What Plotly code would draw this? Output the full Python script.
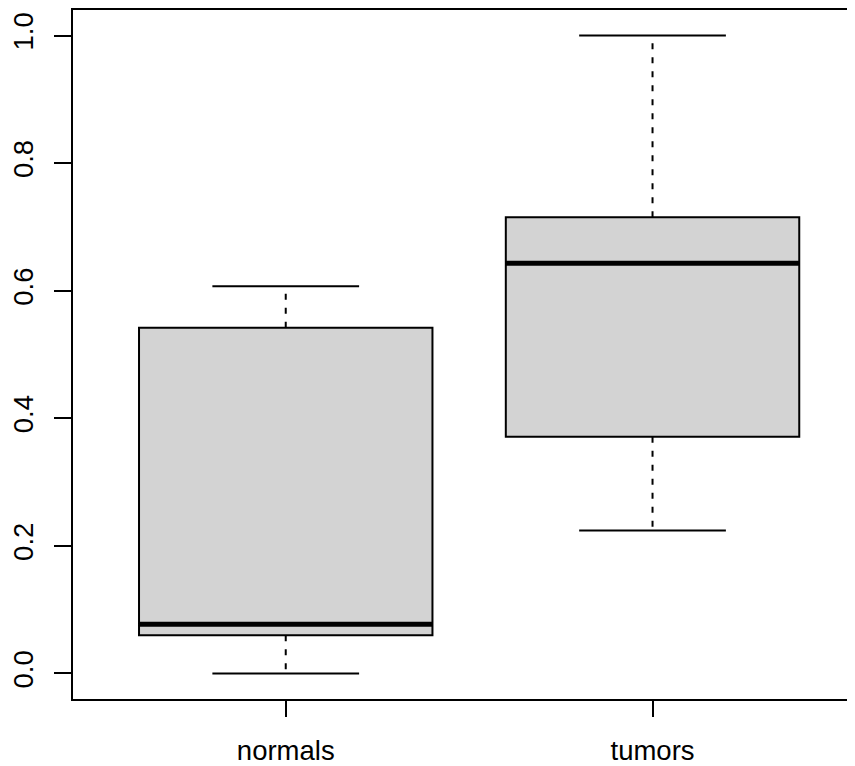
import plotly.graph_objects as go

# ---- data ----
categories = ["normals", "tumors"]
positions = [1, 2]
lower_whisker = [0.000, 0.224]
q1_values = [0.060, 0.371]
medians = [0.077, 0.643]
q3_values = [0.542, 0.715]
upper_whisker = [0.607, 1.000]
y_ticks = [0.0, 0.2, 0.4, 0.6, 0.8, 1.0]
y_tick_labels = ["0.0", "0.2", "0.4", "0.6", "0.8", "1.0"]

BOX_WIDTH = 0.8
CAP_WIDTH = 0.4
FILL = "#D3D3D3"
FONT = "Liberation Sans, Arial, Helvetica, sans-serif"

fig = go.Figure()

# boxes (whiskers drawn separately so they can be dashed)
for pos, a, m, b in zip(positions, q1_values, medians, q3_values):
    fig.add_trace(go.Box(
        x=[pos], q1=[a], median=[m], q3=[b], lowerfence=[a], upperfence=[b],
        width=BOX_WIDTH, whiskerwidth=0, fillcolor=FILL,
        line=dict(color="black", width=2), boxpoints=False,
        hoverinfo="skip", showlegend=False,
    ))

for pos, lo, a, m, b, hi in zip(positions, lower_whisker, q1_values, medians,
                                q3_values, upper_whisker):
    # dashed whiskers
    for y0, y1 in ((a, lo), (b, hi)):
        fig.add_trace(go.Scatter(
            x=[pos, pos], y=[y0, y1], mode="lines",
            line=dict(color="black", width=2, dash="6px,8px"),
            hoverinfo="skip", showlegend=False,
        ))
    # staples
    for yv in (lo, hi):
        fig.add_trace(go.Scatter(
            x=[pos - CAP_WIDTH / 2, pos + CAP_WIDTH / 2], y=[yv, yv], mode="lines",
            line=dict(color="black", width=2),
            hoverinfo="skip", showlegend=False,
        ))
    # thick median
    fig.add_trace(go.Scatter(
        x=[pos - BOX_WIDTH / 2, pos + BOX_WIDTH / 2], y=[m, m], mode="lines",
        line=dict(color="black", width=5),
        hoverinfo="skip", showlegend=False,
    ))

fig.update_layout(
    width=847, height=758,
    margin=dict(l=65, r=0, t=1, b=65, pad=0),
    paper_bgcolor="white", plot_bgcolor="white",
    font=dict(family=FONT, size=27.5, color="black"),
    showlegend=False,
    xaxis=dict(
        range=[0.42, 2.552], tickmode="array", tickvals=positions, ticktext=categories,
        ticks="outside", ticklen=16, tickwidth=2, tickcolor="black",
        showline=True, linecolor="black", linewidth=2, mirror=True,
        showgrid=False, zeroline=False, ticklabelstandoff=10,
    ),
    yaxis=dict(
        range=[-0.04, 1.04], tickmode="array", tickvals=y_ticks, ticktext=y_tick_labels,
        tickangle=-90, ticks="outside", ticklen=17, tickwidth=2, tickcolor="black",
        showline=True, linecolor="black", linewidth=2, mirror=False,
        showgrid=False, zeroline=False, ticklabelstandoff=10,
    ),
)

fig.write_html("out.html")
